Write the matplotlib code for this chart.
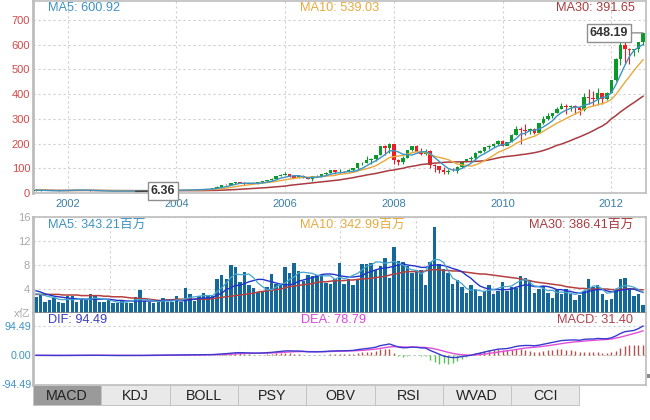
"""Monthly candlestick chart with volume and MACD panels."""
import matplotlib
matplotlib.use("Agg")
import matplotlib.pyplot as plt
from matplotlib.patches import Rectangle
import numpy as np

plt.rcParams["font.family"] = ["Liberation Sans", "Noto Sans CJK SC", "DejaVu Sans"]

# ── price, one row per year, first month is 2001-06 ─────────────────────────
opens = [
    10.0, 11.6, 9.4, 9.3, 7.8, 9.0, 10.7,
    11.0, 12.4, 10.9, 11.8, 12.1, 11.7, 8.9, 7.6, 7.4, 7.3, 8.0, 7.8,
    7.2, 7.2, 7.5, 7.1, 7.1, 9.0, 9.5, 10.6, 11.3, 10.4, 11.4, 10.5,
    10.7, 11.3, 12.0, 13.5, 12.9, 14.0, 16.3, 16.2, 17.3, 19.4, 26.2, 33.5,
    32.2, 38.5, 45, 41.7, 36, 39.8, 36.8, 42.7, 46.9, 53.6, 57.6, 67.8,
    71.9, 75.5, 68.5, 62.7, 70.4, 60, 57.3, 67.9, 67.9, 77, 81, 91.7,
    84.8, 85.7, 84.6, 92.9, 99.8, 121.2, 122, 131.8, 138.5, 153.5, 189.9, 182.2,
    198, 135.4, 125, 143.5, 174, 188.8, 167.4, 158.9, 169.5, 113.7, 107.6, 92.7,
    85.4, 90.1, 89.3, 105.1, 125.8, 135.8, 142.4, 163.4, 168.2, 185.4, 188.5, 199.9,
    210.7, 192, 204.6, 235, 261, 256.9, 251.5, 257.3, 243.1, 283.8, 300.9, 311.2,
    322.6, 339.3, 353.2, 348.5, 350.1, 347.8, 335.7, 390.5, 384.8, 381.3, 404.8, 382.2,
    405, 456.5, 542.4, 599.6, 583, 577.7, 584, 610.8,
]
closes = [
    11.6, 9.4, 9.3, 7.8, 9.0, 10.7, 11.0,
    12.4, 10.9, 11.8, 12.1, 11.7, 8.9, 7.6, 7.4, 7.3, 8.0, 7.8, 7.2,
    7.2, 7.5, 7.1, 7.1, 9.0, 9.5, 10.6, 11.3, 10.4, 11.4, 10.5, 10.7,
    11.3, 12.0, 13.5, 12.9, 14.0, 16.3, 16.2, 17.3, 19.4, 26.2, 33.5, 32.2,
    38.5, 45, 41.7, 36, 39.8, 36.8, 42.7, 46.9, 53.6, 57.6, 67.8, 71.9,
    75.5, 68.5, 62.7, 70.4, 60, 57.3, 67.9, 67.9, 77, 81, 91.7, 84.8,
    85.7, 84.6, 92.9, 99.8, 121.2, 122, 131.8, 138.5, 153.5, 189.9, 182.2, 198,
    135.4, 125, 143.5, 174, 188.8, 167.4, 158.9, 169.5, 113.7, 107.6, 92.7, 85.4,
    90.1, 89.3, 105.1, 125.8, 135.8, 142.4, 163.4, 168.2, 185.4, 188.5, 199.9, 210.7,
    192, 204.6, 235, 261, 256.9, 251.5, 257.3, 243.1, 283.8, 300.9, 311.2, 322.6,
    339.3, 353.2, 348.5, 350.1, 347.8, 335.7, 390.5, 384.8, 381.3, 404.8, 382.2, 405,
    456.5, 542.4, 599.6, 583, 577.7, 584, 610.8, 648.19,
]
highs = [
    11.8, 12, 10, 9.8, 9.2, 10.9, 11.5,
    12.6, 13, 12, 13, 13, 12.5, 9.2, 8.5, 8, 8, 8.5, 8.2,
    7.8, 7.9, 7.8, 7.5, 9.4, 10, 10.8, 11.9, 12.6, 12, 12.2, 11,
    11.7, 12.2, 14, 14.7, 14.2, 16.6, 17, 17.7, 19.6, 26.5, 33.6, 34.7,
    39.9, 46, 45.5, 45, 40.2, 40.5, 43.5, 47.5, 54.5, 60, 68.6, 75.5,
    86.4, 75.5, 72, 73, 71.7, 62, 68.3, 73.3, 77.8, 83, 93.2, 93.1,
    97.8, 90.9, 96.8, 101.3, 122.2, 125.5, 148.9, 141, 155, 190, 193, 203,
    200, 135.8, 151.5, 175.8, 192.2, 193, 180.4, 180, 173.9, 116, 111, 103.6,
    98, 100, 110.9, 128, 136.9, 149.2, 167.5, 175, 188, 193, 204, 214,
    215.6, 205, 237, 272, 266, 281, 265, 264, 283.9, 311, 325, 325,
    348, 364.9, 361, 355, 355, 349, 404.5, 422, 414, 422.9, 404, 408,
    458, 546, 621, 644, 585, 584.5, 610, 648.5,
]
lows = [
    9.8, 8.9, 8.9, 7.5, 7.7, 8.8, 10.4,
    10.8, 10.5, 10.6, 11.5, 11.5, 8.5, 7.2, 6.6, 6.9, 6.9, 7.6, 7,
    6.9, 7, 6.4, 6.36, 7, 8.9, 9.1, 10.4, 10.2, 10.3, 10.2, 10,
    10.6, 10.9, 12, 12.5, 12.5, 13.8, 15, 15.5, 17, 19, 25.5, 30.5,
    32, 37, 39.5, 33.5, 35, 35.5, 36, 42, 46.5, 48.5, 57.5, 67,
    71, 64, 58.7, 62.6, 59.5, 55, 50.2, 64, 66, 74, 80.5, 78.2,
    81.9, 80, 83, 90, 98.5, 113, 120.6, 117, 130, 152, 153, 163,
    116, 114.6, 115.4, 142, 169, 165, 155, 152, 100, 86, 80, 78.2,
    78.2, 88.9, 82.3, 101, 124, 131, 135, 160, 165, 180, 187, 194,
    190, 193, 205, 234, 199, 236, 240, 240, 241, 278, 297, 305,
    322, 338, 320, 330, 320, 315, 331, 362, 353, 355, 360, 375,
    405, 454, 517, 522, 522, 554, 570, 600,
]
price_ma5 = [
    11.6, 11.0, 10.6, 10.1, 9.4, 9.3, 9.5,
    10.2, 10.8, 11.2, 11.6, 11.6, 10.9, 10.3, 9.3, 8.5, 7.8, 7.6, 7.6,
    7.5, 7.5, 7.4, 7.2, 7.6, 8.0, 8.7, 9.5, 10.1, 10.6, 10.8, 10.9,
    11.0, 11.0, 11.5, 11.9, 12.6, 13.6, 14.2, 15.4, 16.6, 19.0, 22.4, 25.8,
    30, 35, 39, 39.8, 40, 39.9, 39.9, 40.5, 44, 47.7, 53, 60,
    64, 68, 70, 70, 66, 61, 63, 64, 66, 70, 76, 80,
    82, 84, 87, 87, 92, 100, 110, 121, 130, 142, 155, 170,
    171.6, 166.1, 156.8, 155.2, 153.5, 160, 166.5, 167.7, 159.6, 143.3, 128.3, 113.2,
    99.3, 93.2, 92.6, 99.5, 109.2, 119.7, 134.5, 150, 159, 170, 181, 190.5,
    195.5, 199.3, 208.2, 220.3, 238.2, 241.7, 252.2, 254.2, 258.5, 267.5, 279, 292.2,
    311.6, 325.5, 335, 342.6, 347.6, 347, 354.7, 360, 367.4, 378.5, 387, 389.5,
    406, 438, 478, 517, 552, 577, 590, 600.92,
]
price_ma10 = [
    11.6, 11.3, 11, 10.6, 10.2, 9.9, 9.8,
    10, 10.3, 10.5, 10.7, 10.8, 10.4, 10.1, 9.8, 9.9, 9.6, 9.3, 8.9,
    8.5, 8.2, 7.9, 7.7, 7.8, 7.9, 8.2, 8.5, 8.8, 9.2, 9.7, 10.2,
    10.9, 11, 11.2, 11.3, 11.6, 12.1, 12.6, 13.3, 14.1, 15.5, 17.8, 19.9,
    22.4, 25.7, 28.5, 30.8, 33.4, 35.5, 37.9, 40.8, 42.1, 43.9, 46.9, 49.6,
    53.2, 56.5, 58.8, 61.9, 63.9, 64, 65, 65.1, 66.5, 67.9, 69.5, 71.2,
    75.7, 77.6, 79.8, 83.4, 88.7, 94.2, 98.3, 104, 110, 121, 131, 143,
    147.2, 149.7, 151.9, 158, 162.9, 166.8, 166.3, 164, 157, 148.3, 144, 140,
    134.8, 126.3, 117.6, 113.5, 111.5, 108.8, 113.8, 121.3, 131.3, 141.1, 152.1, 164.5,
    171.9, 180, 189, 201, 210.4, 217, 223.9, 229.3, 239, 250, 261, 272.3,
    282.7, 292, 301.7, 311, 319.6, 329, 340, 347, 352, 357, 362, 368,
    379, 398, 423, 448, 471, 496, 518, 539.03,
]
price_ma30 = [
    11.6, 11.3, 11, 10.8, 10.5, 10.4, 10.3,
    10.4, 10.4, 10.5, 10.6, 10.7, 10.6, 10.4, 10.2, 10.1, 10, 9.9, 9.8,
    9.7, 9.7, 9.6, 9.5, 9.5, 9.4, 9.4, 9.4, 9.4, 9.4, 9.4, 9.3,
    9.3, 9.2, 9.2, 9.3, 9.4, 9.6, 9.7, 9.9, 10.2, 10.7, 11.4, 12,
    12.8, 13.9, 15, 15.9, 17, 18, 19.2, 20.4, 21.9, 23.6, 25, 26.5,
    28, 31, 33, 35, 37, 39, 41, 43, 45, 47, 49, 51,
    53, 56, 59, 62, 66, 69, 73, 76, 79, 83, 87, 91,
    93, 97, 100, 105, 108, 111, 115, 117, 119, 121, 122, 124,
    125, 125, 126, 126, 127, 127, 128, 129, 131, 134, 138, 142,
    146, 148, 150, 152, 155, 157, 160, 163, 167, 172, 178, 185,
    193, 198, 205, 212, 220, 227, 235, 243, 252, 262, 271, 283,
    300, 313, 328, 341, 354, 366, 379, 391.65,
]

# ── volume, in 亿 ────────────────────────────────────────────────────────────
volume = [
    2.6, 3.2, 1.9, 2.1, 2.5, 1.9, 1.7, 2.9, 2.8, 1.9, 2.1, 2.2, 3.1, 2.8, 1.9, 1.9,
    2.2, 1.6, 1.6, 2.0, 1.6, 1.6, 2.7, 3.8, 2.0, 1.9, 1.6, 1.9, 2.5, 1.9, 1.9, 2.8,
    1.8, 4.1, 3.2, 2.0, 2.9, 3.3, 2.9, 2.8, 5.6, 6.3, 5.6, 8.0, 7.7, 5.2, 6.9, 4.6,
    4.1, 3.5, 3.5, 4.3, 6.5, 4.8, 4.8, 7.7, 6.7, 8.3, 7.0, 5.4, 6.3, 6.1, 6.3, 6.3,
    5.0, 4.8, 5.7, 8.3, 4.8, 5.6, 4.6, 5.7, 8.1, 8.2, 8.4, 7.2, 7.9, 9.1, 5.9, 11,
    8.7, 8.5, 7.9, 6.6, 7.2, 7.1, 4.6, 8.5, 14.4, 8.2, 7.4, 6.6, 4.9, 5.5, 4.3, 3.4,
    4.6, 4.0, 2.8, 3.6, 4.7, 3.1, 3.7, 5.2, 3.7, 4.3, 4.2, 6.2, 5.8, 5.4, 3.4, 4.0,
    4.5, 3.3, 2.5, 3.9, 3.1, 4.0, 3.1, 2.2, 3.0, 3.6, 5.7, 4.3, 4.7, 3.1, 2.1, 2.3,
    3.9, 5.6, 5.9, 4.2, 2.9, 3.2, 1.4,
]
vol_ma5 = [
    3.2, 3.1, 2.9, 2.7, 2.6, 2.3, 2.2,
    2.3, 2.2, 2.3, 2.4, 2.3, 2.3, 2.5, 2.4, 2.3, 2.2, 2.0, 1.8,
    1.8, 1.8, 2.0, 2.2, 2.2, 2.2, 2.2, 2.0, 1.9, 2.0, 2.0, 2.0,
    2.2, 2.1, 2.4, 2.6, 2.7, 2.8, 2.9, 2.9, 2.9, 3.6, 4.2, 5.0,
    5.9, 6.5, 6.4, 6.4, 6.5, 5.9, 5.0, 4.4, 3.9, 3.9, 4.3, 4.8,
    5.0, 5.6, 6.0, 6.7, 6.8, 6.7, 6.6, 6.3, 6.2, 6.2, 6.2, 5.6,
    6.0, 5.7, 5.9, 6.3, 6.6, 7.2, 7.8, 8.0, 8.5, 8.5, 8.3, 8.4,
    8.6, 8.3, 8.0, 7.5, 7.2, 7.1, 6.5, 7.0, 8.4, 8.9, 8.9, 8.4,
    7.0, 5.8, 5.4, 4.9, 4.1, 3.8, 3.9, 3.7, 3.6, 3.8, 3.9, 4.1,
    4.4, 4.4, 4.5, 5.0, 5.4, 5.6, 5.1, 4.5, 4.4, 4.1, 3.7, 3.8,
    3.4, 3.5, 3.4, 3.3, 3.1, 3.3, 3.7, 4.0, 4.5, 4.5, 4.0, 3.3,
    3.4, 4.0, 4.3, 4.6, 4.5, 4.3, 3.9, 3.43,
]
vol_ma10 = [
    3.7, 3.5, 3.2, 3.0, 2.8, 2.7, 2.6,
    2.5, 2.4, 2.4, 2.3, 2.3, 2.3, 2.3, 2.3, 2.3, 2.3, 2.2, 2.1,
    2.1, 2.0, 2.0, 2.0, 2.0, 2.0, 2.0, 2.0, 2.0, 2.1, 2.1, 2.1,
    2.1, 2.0, 2.1, 2.2, 2.3, 2.4, 2.5, 2.5, 2.6, 3.0, 3.3, 3.9,
    4.2, 4.6, 4.6, 4.9, 5.2, 5.4, 5.6, 5.6, 5.4, 5.2, 5.0, 4.8,
    4.7, 4.7, 4.9, 5.3, 5.5, 5.7, 5.9, 6.1, 6.4, 6.5, 6.5, 6.4,
    6.2, 6.1, 6.0, 6.0, 6.1, 6.2, 6.7, 6.9, 7.2, 7.4, 7.5, 7.6,
    7.8, 8.0, 8.2, 8.0, 7.9, 7.8, 7.6, 7.6, 7.9, 8.0, 8.0, 7.9,
    7.7, 7.4, 7.2, 6.9, 6.3, 5.8, 5.1, 4.5, 4.2, 4.0, 3.9, 3.9,
    3.9, 3.9, 4.0, 4.3, 4.5, 4.7, 4.6, 4.4, 4.4, 4.5, 4.4, 4.2,
    3.9, 3.9, 3.7, 3.6, 3.4, 3.3, 3.4, 3.6, 3.8, 3.9, 3.9, 3.7,
    3.5, 3.6, 3.8, 3.9, 4.0, 4.0, 3.7, 3.43,
]
vol_ma30 = [
    3.1, 3.1, 3.1, 3.1, 3.1, 3.1, 3.0,
    3.0, 3.0, 3.0, 2.9, 2.9, 2.9, 2.9, 2.9, 2.8, 2.8, 2.7, 2.7,
    2.7, 2.6, 2.5, 2.5, 2.4, 2.4, 2.3, 2.2, 2.1, 2.1, 2.2, 2.2,
    2.3, 2.3, 2.3, 2.3, 2.3, 2.3, 2.3, 2.3, 2.4, 2.5, 2.6, 2.7,
    2.8, 2.9, 3.0, 3.1, 3.2, 3.3, 3.5, 3.6, 3.7, 3.8, 3.9, 4.0,
    4.2, 4.4, 4.5, 4.6, 4.7, 4.8, 4.9, 5.1, 5.2, 5.2, 5.3, 5.4,
    5.4, 5.4, 5.5, 5.5, 5.6, 5.7, 5.7, 5.8, 5.9, 6.0, 6.1, 6.3,
    6.5, 6.6, 6.8, 6.9, 6.9, 6.9, 6.9, 7.0, 7.2, 7.2, 7.2, 7.1,
    7.1, 7.0, 7.0, 6.9, 6.8, 6.7, 6.6, 6.5, 6.5, 6.4, 6.3, 6.2,
    6.1, 6.0, 5.9, 5.8, 5.7, 5.5, 5.4, 5.2, 5.1, 5.0, 4.9, 4.8,
    4.7, 4.6, 4.4, 4.3, 4.2, 4.1, 4.1, 4.0, 4.0, 4.0, 4.0, 4.0,
    3.9, 3.9, 3.9, 4.0, 4.0, 4.0, 3.9, 3.86,
]

# ── MACD ─────────────────────────────────────────────────────────────────────
dif = [
    -1.2, -1.3, -1.4, -1.5, -1.5, -1.5, -1.4,
    -1.2, -1, -0.9, -0.7, -0.6, -0.7, -0.9, -1.1, -1.3, -1.4, -1.5, -1.6,
    -1.6, -1.6, -1.6, -1.6, -1.5, -1.3, -1.0, -0.8, -0.6, -0.4, -0.3, -0.2,
    0, 0.1, 0.3, 0.4, 0.6, 0.8, 0.9, 1.1, 1.4, 2.3, 3.5, 4.4,
    5.8, 7.2, 7.7, 7.2, 7.0, 6.2, 6.2, 6.6, 7.5, 8.6, 10.2, 11.8,
    13.2, 13.5, 13, 13, 12, 10.5, 10.4, 10.3, 10.8, 11.5, 12.9, 13.2,
    13.5, 13.5, 14.2, 15, 17.5, 19.2, 21, 23, 25.5, 30.5, 33, 36,
    31, 26, 23.5, 24, 26, 25, 23, 22.5, 15, 9, 2.5, -3.5,
    -6.5, -8.5, -8, -5, -3, -1, 3, 6, 9.5, 13, 16, 19,
    20, 21, 24, 28, 30, 31, 31, 30, 32, 35, 38, 41,
    44, 47, 48, 49, 49, 48, 51, 52, 52, 54, 53, 53,
    56, 62, 70, 76, 78, 80, 86, 94.49,
]
dea = [
    -1, -1.1, -1.2, -1.3, -1.3, -1.4, -1.4,
    -1.3, -1.3, -1.2, -1.1, -1, -0.9, -0.9, -0.9, -1, -1.1, -1.2, -1.3,
    -1.4, -1.4, -1.5, -1.5, -1.5, -1.5, -1.4, -1.3, -1.1, -1, -0.8, -0.7,
    -0.5, -0.4, -0.2, 0, 0.1, 0.2, 0.4, 0.6, 0.8, 1.1, 1.6, 2.2,
    2.9, 3.8, 4.6, 5.1, 5.5, 5.6, 5.7, 5.9, 6.2, 6.7, 7.4, 8.3,
    9.3, 10.1, 10.7, 11.1, 11.3, 11.1, 11, 10.8, 10.8, 11, 11.4, 11.8,
    12.1, 12.4, 12.8, 13.3, 14.1, 15.1, 16.3, 17.6, 19.2, 21.5, 23.8, 26.2,
    27.2, 27, 26.3, 25.8, 25.8, 25.6, 25.1, 24.6, 22.7, 20, 16.5, 12.5,
    8.7, 5.3, 2.6, 1, 0, -0.2, 0.4, 1.5, 3.1, 5.1, 7.3, 9.6,
    11.7, 13.5, 15.6, 18.1, 20.4, 22.4, 24, 25.2, 26.6, 28.3, 30.3, 32.4,
    34.7, 37.2, 39.4, 41.3, 42.9, 43.9, 45.3, 46.6, 47.7, 48.9, 49.7, 50.4,
    52, 55, 58, 62, 66, 70, 74, 78.79,
]
macd = [
    -0.4, -0.4, -0.4, -0.4, -0.4, -0.2, 0,
    0.2, 0.6, 0.6, 0.8, 0.8, 0.4, 0, -0.4, -0.6, -0.6, -0.6, -0.6,
    -0.4, -0.4, -0.2, -0.2, 0, 0.4, 0.8, 1, 1, 1.2, 1, 1,
    1, 1, 1, 0.8, 1, 1.2, 1, 1, 1.2, 2.4, 3.8, 4.4,
    5.8, 6.8, 6.2, 4.2, 3, 1.2, 1, 1.4, 2.6, 3.8, 5.6, 7,
    7.8, 6.8, 4.6, 3.8, 1.4, -0.8, -1, -1, 0, 1, 3, 2.8,
    2.8, 2.2, 2.8, 3.4, 6.8, 8.2, 9.4, 10.8, 12.6, 18, 18.4, 19.6,
    7.6, -2, -5.6, -3.6, 0.4, -1.2, -4.2, -4.2, -15, -22, -28, -25,
    -30, -27.6, -21, -12, -6, -1.6, 5, 9, 12.8, 15.8, 17.4, 18.8,
    16.6, 15, 16.8, 19.8, 19.2, 17.2, 14, 9.6, 10.8, 13.4, 15.4, 17.2,
    18.6, 19.6, 17.2, 15.4, 12.2, 8.2, 11.4, 10.8, 8.6, 10.2, 6.6, 5.2,
    9, 14, 24, 29, 34, 33, 33, 31.4,
]

year_pos = [7, 31, 55, 79, 103, 127]
year_labels = ["2002", "2004", "2006", "2008", "2010", "2012"]
price_ticks = [0, 100, 200, 300, 400, 500, 600, 700]
vol_ticks = [4, 8, 12, 16]
macd_ticks = [-94.49, 0, 94.49]
macd_tick_labels = ["-94.49", "0.00", "94.49"]
tabs = ["MACD", "KDJ", "BOLL", "PSY", "OBV", "RSI", "WVAD", "CCI"]

# ── colours ──────────────────────────────────────────────────────────────────
C_UP = "#0a9a2a"
C_DOWN = "#ee1c25"
C_MA5 = "#3d93c4"
C_MA10 = "#e8a93e"
C_MA30 = "#a83c40"
C_VOL = "#14689a"
C_GRID = "#cfcfcf"
C_BORDER = "#bdbdbd"
C_TICK_RED = "#d24a4a"
C_TICK_BLUE = "#3a7fa8"

W, H = 650, 420
XL, XR = 33, 646
xlim = (-0.66, 134.66)
x = np.arange(len(closes))


def panel(top, bottom, ylim):
    # pixel box to figure fractions
    ax = fig.add_axes([XL / W, 1 - bottom / H, (XR - XL) / W, (bottom - top) / H])
    ax.set_xlim(*xlim)
    ax.set_ylim(*ylim)
    ax.set_axisbelow(True)
    for s in ax.spines.values():
        s.set_color(C_BORDER)
        s.set_linewidth(1.2)
    ax.spines["left"].set_linewidth(2)
    return ax


def labels(ax, entries, y=0.0):
    for px, txt, col in entries:
        ax.text((px - XL) / (XR - XL), y, txt, transform=ax.transAxes, color=col,
                fontsize=9.2, ha="left", va="center")


fig = plt.figure(figsize=(W / 100, H / 100), dpi=100, facecolor="white")

# ── price panel ──────────────────────────────────────────────────────────────
ax1 = panel(1, 193, (0, 777))
ax1.set_yticks(price_ticks)
ax1.set_xticks(year_pos, year_labels)
ax1.tick_params(axis="y", length=0, pad=2, labelsize=8, labelcolor=C_TICK_RED)
ax1.tick_params(axis="x", length=0, pad=4, labelsize=8, labelcolor=C_TICK_BLUE)
ax1.grid(True, color=C_GRID, linestyle=(0, (2, 2.5)), linewidth=0.8)

o, c = np.array(opens), np.array(closes)
up = c >= o
colors = np.where(up, C_UP, C_DOWN)
ax1.vlines(x, lows, highs, colors=colors, linewidth=0.8, zorder=2)
ax1.bar(x, np.abs(c - o), bottom=np.minimum(o, c), width=0.78, color=colors, zorder=3)
ax1.plot(x, price_ma30, color=C_MA30, lw=1.1, zorder=4)
ax1.plot(x, price_ma10, color=C_MA10, lw=1.0, zorder=4)
ax1.plot(x, price_ma5, color=C_MA5, lw=1.0, zorder=4)

labels(ax1, [(48, "MA5: 600.92", C_MA5), (300, "MA10: 539.03", C_MA10),
             (556, "MA30: 391.65", C_MA30)], y=0.962)

box = dict(boxstyle="square,pad=0.22", fc="white", ec="#8f8f8f", lw=1)
low_i, high_i = int(np.argmin(lows)), int(np.argmax(closes))
ax1.annotate(f"{lows[low_i]:.2f}", xy=(low_i, lows[low_i]), xytext=(163, 420 - 191),
             textcoords="figure pixels", ha="center", va="center", fontsize=9,
             fontweight="bold", color="#333333", bbox=box, zorder=6, annotation_clip=False,
             arrowprops=dict(arrowstyle="-", color="#444444", lw=1, shrinkA=0, shrinkB=0))
ax1.annotate(f"{closes[high_i]:.2f}", xy=(high_i, closes[high_i]), xytext=(609, 420 - 33),
             textcoords="figure pixels", ha="center", va="center", fontsize=9,
             fontweight="bold", color="#333333", bbox=box, zorder=6,
             arrowprops=dict(arrowstyle="-", color="#8f8f8f", lw=1, shrinkA=0, shrinkB=0))

# ── volume panel ─────────────────────────────────────────────────────────────
ax2 = panel(217, 313, (0, 16))
ax2.spines["bottom"].set_color("#888888")
ax2.set_yticks(vol_ticks)
ax2.set_xticks(np.linspace(xlim[0], xlim[1], 9)[1:-1], [])
ax2.tick_params(axis="both", length=0)
ax2.tick_params(axis="y", pad=2, labelsize=8, labelcolor="#a8a8a8")
ax2.grid(True, color=C_GRID, linestyle=(0, (2, 2.5)), linewidth=0.8)

ax2.bar(x, volume, width=0.76, color=C_VOL, zorder=2)
ax2.plot(x, vol_ma30, color="#b5403f", lw=1.1, zorder=3)
ax2.plot(x, vol_ma10, color="#2233cc", lw=1.0, zorder=3)
ax2.plot(x, vol_ma5, color="#45a5cf", lw=0.9, zorder=3)

labels(ax2, [(48, "MA5: 343.21百万", C_MA5), (300, "MA10: 342.99百万", C_MA10),
             (529, "MA30: 386.41百万", C_MA30)], y=0.915)
fig.text(31 / W, 1 - 314 / H, "x亿", color="#a8a8a8", fontsize=8, ha="right", va="center")

# ── MACD panel ───────────────────────────────────────────────────────────────
ax3 = panel(313, 385, (-97.7, 136.8))
ax3.spines["top"].set_visible(False)
ax3.set_yticks(macd_ticks, macd_tick_labels)
ax3.set_xticks([])
ax3.tick_params(axis="y", length=0, pad=1, labelsize=7.7, labelcolor="#3d93c4")
ax3.axhline(macd_ticks[2], color=C_GRID, linestyle=(0, (2, 2.5)), lw=0.8, zorder=1)
ax3.axhline(0, color="#b7c9b0", linestyle=(0, (2, 2.5)), lw=0.8, zorder=1)

m = np.array(macd)
ax3.vlines(x, 0, m, colors=np.where(m >= 0, "#b2514f", "#55c455"), linewidth=1.0, zorder=2)
ax3.plot(x, dea, color="#e04fd8", lw=1.0, zorder=3)
ax3.plot(x, dif, color="#3a3ad0", lw=1.0, zorder=4)

labels(ax3, [(48, "DIF: 94.49", "#3c3cc4"), (301, "DEA: 78.79", "#dd44dd"),
             (557, "MACD: 31.40", "#b04048")], y=0.9)

# ── tabs along the bottom ────────────────────────────────────────────────────
tab_w = 68.3
for i, name in enumerate(tabs):
    left = XL + i * tab_w
    fig.add_artist(Rectangle((left / W, 1 - 405 / H), tab_w / W, 20 / H,
                             transform=fig.transFigure, lw=0.7, ec="#c4c4c4",
                             fc="#9a9a9a" if i == 0 else "#e9e9e9"))
    fig.text((left + tab_w / 2) / W, 1 - 396 / H, name, fontsize=10.3, color="#222222",
             ha="center", va="center")

# small grey handle on the right edge
fig.add_artist(Rectangle((647 / W, 1 - 378 / H), 3 / W, 4 / H, transform=fig.transFigure,
                         lw=0, fc="#8a8a8a"))

fig.savefig("out.png", dpi=100)
